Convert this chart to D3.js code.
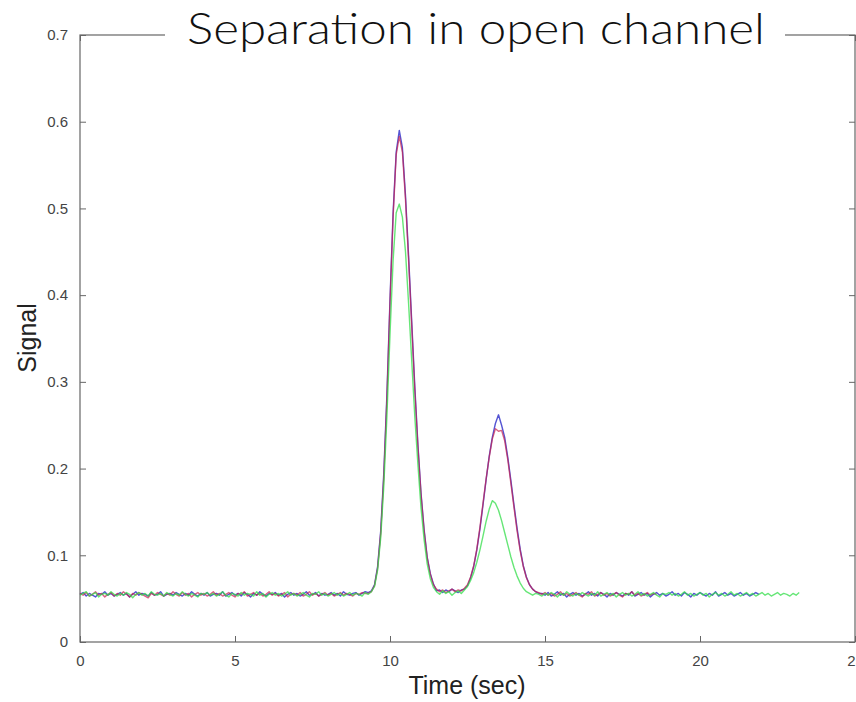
<!DOCTYPE html>
<html><head><meta charset="utf-8">
<script src="https://cdn.jsdelivr.net/npm/d3@7"></script>
<style>html,body{margin:0;padding:0;background:#fff;overflow:hidden}</style>
</head><body><svg id="c" width="856" height="702"></svg>
<script>
const title = "Separation in open channel";
const xLabel = "Time (sec)";
const yLabel = "Signal";
const xTicks = [0, 5, 10, 15, 20, 25];
const yTicks = [0, 0.1, 0.2, 0.3, 0.4, 0.5, 0.6, 0.7];
const sampleStep = 0.1; // seconds between samples, starting at t = 0

const redValues = [
.056,.054,.057,.053,.055,.058,.054,.056,.052,.055,
.057,.053,.056,.054,.058,.055,.052,.056,.054,.057,
.055,.053,.051,.056,.054,.057,.055,.053,.056,.054,
.058,.055,.053,.057,.054,.056,.052,.055,.057,.054,
.056,.053,.055,.058,.054,.056,.053,.055,.057,.054,
.052,.056,.055,.058,.053,.055,.057,.054,.056,.053,
.055,.058,.054,.056,.053,.055,.057,.052,.055,.056,
.054,.057,.053,.055,.058,.054,.056,.053,.055,.057,
.054,.056,.053,.055,.057,.054,.056,.055,.053,.056,
.055,.057,.056,
.056,.058,.065,.085,.125,.19,.28,.39,.49,.562,.583,.565,.51,.44,.365,.29,.225,.17,.128,.097,.078,.066,
.061,.058,.060,.057,.059,.061,.058,.060,.059,.062,
.066,.075,.088,.107,.132,.160,.188,.213,.234,.246,.243,.244,.232,.210,.183,.155,.128,.105,.087,.074,.066,.061,.058,.057,
.055,.057,.054,.056,.053,.055,.058,.054,.056,.053,
.055,.057,.054,.052,.056,.055,.058,.053,.055,.057,
.054,.056,.053,.055,.057,.054,.052,.056,.055,.058,
.054,.056,.053,.055,.057,.054,.056,.055
];
const blueValues = [
.055,.057,.053,.056,.054,.052,.056,.055,.058,.054,
.056,.053,.055,.057,.054,.056,.052,.055,.058,.054,
.056,.055,.053,.057,.054,.055,.058,.053,.055,.056,
.054,.057,.055,.053,.056,.054,.058,.055,.053,.056,
.054,.057,.053,.055,.056,.054,.058,.053,.055,.057,
.054,.056,.053,.057,.055,.052,.056,.054,.058,.055,
.053,.056,.055,.057,.054,.056,.052,.055,.057,.054,
.056,.053,.055,.058,.054,.055,.057,.053,.056,.054,
.055,.057,.054,.056,.053,.058,.055,.054,.056,.057,
.054,.056,.058,
.057,.059,.066,.087,.128,.195,.285,.395,.495,.565,.59,.57,.515,.445,.37,.295,.228,.172,.13,.098,.079,.067,
.059,.060,.057,.060,.058,.061,.059,.057,.060,.061,
.065,.074,.087,.106,.130,.158,.187,.214,.236,.252,.262,.250,.236,.213,.186,.158,.131,.107,.088,.075,.066,.061,.058,.056,
.056,.054,.057,.053,.055,.058,.054,.056,.052,.055,
.057,.054,.056,.053,.055,.058,.054,.056,.053,.057,
.055,.052,.056,.054,.057,.055,.053,.056,.054,.058,
.053,.055,.057,.054,.056,.052,.055,.057,.054,.056,
.053,.055,.058,.054,.056,.053,.057,.055,.052,.056,
.054,.057,.055,.053,.056,.054,.058,.053,.055,.057,
.054,.056,.053,.055,.057,.054,.056,.053,.055,.057,
.055
];
const greenValues = [
.054,.056,.058,.053,.055,.057,.052,.055,.056,.054,
.058,.055,.053,.056,.054,.057,.055,.051,.055,.057,
.054,.056,.053,.058,.055,.054,.056,.053,.057,.055,
.053,.056,.054,.058,.055,.053,.056,.054,.052,.056,
.055,.057,.054,.056,.053,.055,.058,.054,.052,.056,
.055,.053,.057,.054,.056,.055,.053,.058,.054,.056,
.052,.055,.057,.054,.056,.053,.055,.058,.054,.056,
.053,.055,.057,.054,.052,.056,.055,.058,.054,.056,
.053,.055,.057,.054,.056,.053,.055,.057,.054,.056,
.055,.053,.057,
.055,.058,.064,.083,.120,.180,.260,.355,.440,.495,.505,.490,.450,.390,.325,.260,.205,.155,.118,.090,.073,.063,
.058,.055,.059,.056,.058,.054,.057,.059,.056,.060,
.064,.071,.080,.092,.106,.122,.139,.153,.163,.160,.152,.140,.126,.112,.098,.086,.076,.068,.062,.058,.056,.054,.056,.055,
.053,.056,.054,.057,.055,.052,.056,.054,.058,.055,
.053,.056,.054,.057,.055,.053,.056,.054,.058,.053,
.055,.057,.054,.056,.052,.055,.057,.054,.056,.053,
.055,.058,.054,.056,.053,.055,.057,.054,.052,.056,
.055,.057,.054,.056,.053,.055,.058,.054,.056,.053,
.055,.057,.054,.056,.052,.055,.057,.054,.056,.053,
.055,.058,.054,.056,.053,.055,.057,.054,.056,.053,
.055,.057,.054,.056,.053,.055,.057,.054,.056,.055,
.053,.056,.054,.057
];

const series = [
  {name: "blue", values: blueValues, color: "#2b2bc8", opacity: 0.8},
  {name: "red", values: redValues, color: "#c8204e", opacity: 0.7},
  {name: "green", values: greenValues, color: "#33dd4a", opacity: 0.75}
];

const svg = d3.select("#c");
const mLeft = 80, mRight = 855, mTop = 35, mBottom = 642;
const x = d3.scaleLinear().domain([0, 25]).range([mLeft, mRight]);
const y = d3.scaleLinear().domain([0, 0.7]).range([mBottom, mTop]);
const axisColor = "#666";
const tickFont = "Liberation Sans, Arial, sans-serif";

// box
svg.append("rect").attr("x", mLeft).attr("y", mTop).attr("width", mRight - mLeft).attr("height", mBottom - mTop)
  .attr("fill", "none").attr("stroke", axisColor).attr("stroke-width", 1.2);

// axes with inward ticks
const gx = svg.append("g").attr("transform", `translate(0,${mBottom})`)
  .call(d3.axisBottom(x).tickValues(xTicks).tickSizeInner(-6).tickSizeOuter(0).tickPadding(13).tickFormat(d3.format("d")));
const gxt = svg.append("g").attr("transform", `translate(0,${mTop})`)
  .call(d3.axisTop(x).tickValues(xTicks).tickSizeInner(-6).tickSizeOuter(0).tickFormat(""));
const gy = svg.append("g").attr("transform", `translate(${mLeft},0)`)
  .call(d3.axisLeft(y).tickValues(yTicks).tickSizeInner(-6).tickSizeOuter(0).tickPadding(12).tickFormat(d => d === 0 ? "0" : d3.format(".1f")(d)));
const gyr = svg.append("g").attr("transform", `translate(${mRight},0)`)
  .call(d3.axisRight(y).tickValues(yTicks).tickSizeInner(-6).tickSizeOuter(0).tickFormat(""));
[gx, gxt, gy, gyr].forEach(g => {
  g.select(".domain").remove();
  g.selectAll(".tick line").attr("stroke", axisColor);
  g.selectAll("text").attr("fill", "#444").style("font-family", tickFont).style("font-size", "15px");
});

// lines
const line = d3.line().x((d, i) => x(i * sampleStep)).y(d => y(d));
series.forEach(s => {
  svg.append("path").datum(s.values).attr("d", line)
    .attr("fill", "none").attr("stroke", s.color).attr("stroke-width", 1.4)
    .attr("stroke-opacity", s.opacity).attr("stroke-linejoin", "round");
});

// title with white backing over the top border
svg.append("rect").attr("x", 165).attr("y", 8).attr("width", 620).attr("height", 44).attr("fill", "#fff");
svg.append("text").attr("x", 476).attr("y", 44).attr("text-anchor", "middle")
  .attr("textLength", 578).attr("lengthAdjust", "spacingAndGlyphs")
  .style("font-family", "Lato, 'Open Sans', sans-serif").style("font-weight", 300).style("font-size", "44px")
  .attr("fill", "#111").text(title);

// axis labels
svg.append("text").attr("x", 467).attr("y", 694).attr("text-anchor", "middle")
  .style("font-family", tickFont).style("font-size", "25px").attr("fill", "#222").text(xLabel);
svg.append("text").attr("transform", "translate(36,338) rotate(-90)").attr("text-anchor", "middle")
  .style("font-family", tickFont).style("font-size", "25px").attr("fill", "#222").text(yLabel);
</script></body></html>
